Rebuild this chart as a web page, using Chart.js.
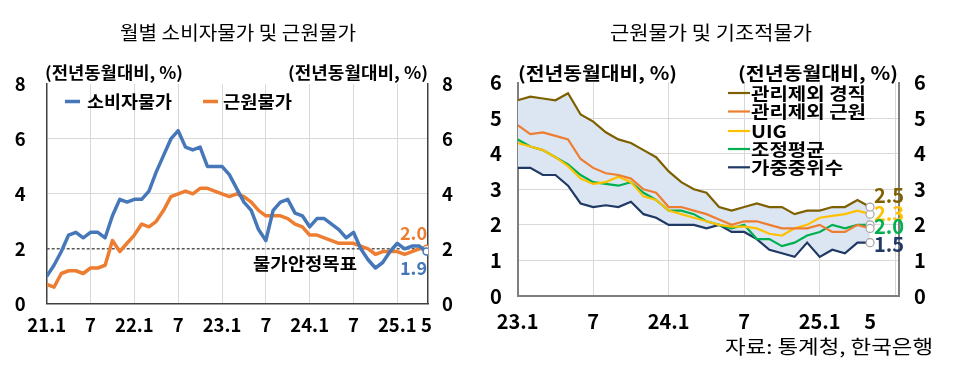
<!DOCTYPE html>
<html>
<head>
<meta charset="utf-8">
<script src="https://cdn.jsdelivr.net/npm/chart.js@4"></script>
<style>
  html, body { margin: 0; padding: 0; background: #fff; }
  #wrap { position: relative; width: 956px; height: 378px; overflow: hidden; }
  .cv { position: absolute; top: 0; }
</style>
</head>
<body>
<div id="wrap">
  <canvas id="left" class="cv" width="478" height="378" style="left:0"></canvas>
  <canvas id="right" class="cv" width="478" height="378" style="left:478px"></canvas>
</div>
<script>
// ---------- DATA ----------
// Left chart: monthly, 21.1 .. 25.5
const leftTickIndex = [0, 6, 12, 18, 24, 30, 36, 42, 48, 52];
const leftTickLabels = ['21.1', '7', '22.1', '7', '23.1', '7', '24.1', '7', '25.1', '5'];
const cpi = [
  1.0, 1.4, 1.9, 2.5, 2.6, 2.4, 2.6, 2.6, 2.4, 3.2, 3.8, 3.7,
  3.8, 3.8, 4.1, 4.8, 5.4, 6.0, 6.3, 5.7, 5.6, 5.7, 5.0, 5.0,
  5.0, 4.7, 4.2, 3.7, 3.4, 2.7, 2.3, 3.4, 3.7, 3.8, 3.3, 3.2,
  2.8, 3.1, 3.1, 2.9, 2.7, 2.4, 2.6, 2.0, 1.6, 1.3, 1.5, 1.9,
  2.2, 2.0, 2.1, 2.1, 1.9
];
const core = [
  0.7, 0.6, 1.1, 1.2, 1.2, 1.1, 1.3, 1.3, 1.4, 2.3, 1.9, 2.2,
  2.5, 2.9, 2.8, 3.0, 3.4, 3.9, 4.0, 4.1, 4.0, 4.2, 4.2, 4.1,
  4.0, 3.9, 4.0, 3.9, 3.7, 3.4, 3.2, 3.2, 3.2, 3.1, 2.9, 2.8,
  2.5, 2.5, 2.4, 2.3, 2.2, 2.2, 2.2, 2.1, 2.0, 1.8, 1.9, 1.9,
  1.9, 1.8, 1.9, 2.0, 2.0
];
const inflationTarget = 2;

// Right chart: monthly, 23.1 .. 25.5
const rightTickIndex = [0, 6, 12, 18, 24, 28, 30];
const rightTickLabels = ['23.1', '7', '24.1', '7', '25.1', '5', ''];
const exAdminRigid = [5.5, 5.6, 5.55, 5.5, 5.7, 5.1, 4.9, 4.6, 4.4, 4.3, 4.1, 3.9, 3.5, 3.2, 3.0,
  2.9, 2.5, 2.4, 2.5, 2.6, 2.5, 2.5, 2.3, 2.4, 2.4, 2.5, 2.5, 2.7, 2.5];
const exAdminCore = [4.8, 4.55, 4.6, 4.5, 4.4, 3.85, 3.6, 3.45, 3.4, 3.3, 3.0, 2.9, 2.5, 2.5, 2.4,
  2.3, 2.15, 2.0, 2.1, 2.1, 2.0, 1.9, 1.9, 1.9, 2.0, 1.8, 1.8, 2.0, 1.9];
const uig = [4.3, 4.2, 4.1, 3.9, 3.65, 3.3, 3.15, 3.2, 3.35, 3.2, 2.8, 2.7, 2.4, 2.3, 2.2,
  2.1, 2.0, 1.95, 1.95, 1.9, 1.75, 1.7, 1.9, 2.0, 2.2, 2.25, 2.3, 2.4, 2.3];
const trimmedMean = [4.4, 4.2, 4.1, 3.9, 3.7, 3.4, 3.2, 3.15, 3.1, 3.2, 2.9, 2.7, 2.4, 2.4, 2.3,
  2.1, 2.0, 1.9, 2.0, 1.6, 1.6, 1.4, 1.5, 1.7, 1.8, 2.0, 1.9, 2.0, 2.0];
const weightedMedian = [3.6, 3.6, 3.4, 3.4, 3.1, 2.6, 2.5, 2.55, 2.5, 2.65, 2.3, 2.2, 2.0, 2.0, 2.0,
  1.9, 2.0, 1.8, 1.8, 1.6, 1.3, 1.2, 1.1, 1.5, 1.1, 1.3, 1.2, 1.5, 1.5];

// ---------- HELPERS ----------
const FONT = "'Noto Sans CJK KR', 'Noto Sans', sans-serif";
const toPts = arr => arr.map((v, i) => ({ x: i, y: v }));
const lastIdxRadius = (r) => (ctx) => ctx.dataIndex === ctx.dataset.data.length - 1 ? r : 0;

// draw text; if width given, stretch horizontally to that width
function drawText(ctx, txt, x, y, font, color, align, width, sxFixed) {
  ctx.save();
  ctx.font = font;
  ctx.fillStyle = color;
  ctx.textBaseline = 'middle';
  const w = ctx.measureText(txt).width;
  const sx = sxFixed || (width ? width / w : 1);
  const tw = w * sx;
  let left = x;
  if (align === 'center') left = x - tw / 2;
  else if (align === 'right') left = x - tw;
  ctx.translate(left, y);
  ctx.scale(sx, 1);
  ctx.textAlign = 'left';
  ctx.fillText(txt, 0, 0);
  ctx.restore();
  return sx;
}

// ---------- LEFT CHART ----------
const leftLabelMap = {};
leftTickIndex.forEach((v, i) => leftLabelMap[v] = leftTickLabels[i]);

const leftDecor = {
  id: 'leftDecor',
  beforeDatasetsDraw(chart) {
    const { ctx, chartArea } = chart;
    const y = chart.scales.y.getPixelForValue(inflationTarget);
    ctx.save();
    ctx.strokeStyle = '#595959';
    ctx.lineWidth = 1.6;
    ctx.setLineDash([3, 2]);
    ctx.beginPath();
    ctx.moveTo(chartArea.left, y);
    ctx.lineTo(chartArea.right, y);
    ctx.stroke();
    ctx.restore();
  },
  afterDraw(chart) {
    const { ctx } = chart;
    drawText(ctx, '월별 소비자물가 및 근원물가', 238, 33, '400 19px ' + FONT, '#000', 'center', 236);
    drawText(ctx, '(전년동월대비, %)', 45, 73, 'bold 16.5px ' + FONT, '#000', 'left', 138);
    drawText(ctx, '(전년동월대비, %)', 428, 73, 'bold 16.5px ' + FONT, '#000', 'right', 140);
    // legend
    const legendPos = [{ lx: 65, tx: 87, w: 85 }, { lx: 203, tx: 223, w: 69 }];
    chart.data.datasets.forEach((ds, i) => {
      const p = legendPos[i];
      ctx.save();
      ctx.strokeStyle = ds.borderColor;
      ctx.lineWidth = 3.5;
      ctx.beginPath();
      ctx.moveTo(p.lx, 101.5);
      ctx.lineTo(p.lx + 15, 101.5);
      ctx.stroke();
      ctx.restore();
      drawText(ctx, ds.label, p.tx, 101, 'bold 17.5px ' + FONT, '#000', 'left', p.w);
    });
    const ys = chart.scales.y;
    drawText(ctx, '물가안정목표', 305, ys.getPixelForValue(inflationTarget) + 15, 'bold 17.5px ' + FONT, '#000', 'center', 104);
    // end labels
    const offs = [17, -16];
    chart.data.datasets.forEach((ds, i) => {
      const last = ds.data[ds.data.length - 1];
      drawText(ctx, last.y.toFixed(1), 427, ys.getPixelForValue(last.y) + offs[i], 'bold 18px ' + FONT, ds.borderColor, 'right');
    });
  }
};

new Chart(document.getElementById('left'), {
  type: 'line',
  data: {
    datasets: [
      { label: '소비자물가', data: toPts(cpi), borderColor: '#4677B9', borderWidth: 3.5,
        pointRadius: lastIdxRadius(3.5), pointBackgroundColor: '#fff', pointBorderColor: '#4677B9', pointBorderWidth: 1.5,
        tension: 0, borderJoinStyle: 'round' },
      { label: '근원물가', data: toPts(core), borderColor: '#ED7D31', borderWidth: 3.5,
        pointRadius: lastIdxRadius(3.5), pointBackgroundColor: '#fff', pointBorderColor: '#ED7D31', pointBorderWidth: 1.5,
        tension: 0, borderJoinStyle: 'round' }
    ]
  },
  options: {
    responsive: false, animation: false, devicePixelRatio: 1,
    layout: { padding: { top: 84, left: 0, right: 0, bottom: 0 } },
    plugins: { legend: { display: false }, tooltip: { enabled: false } },
    scales: {
      x: {
        type: 'linear', min: 0, max: 52.2,
        afterFit: s => { s.height = 74.3; },
        afterBuildTicks: s => { s.ticks = leftTickIndex.map(v => ({ value: v })); },
        ticks: { autoSkip: false, maxRotation: 0, padding: 10, color: '#000',
          font: { family: FONT, size: 18.5, weight: 'bold' },
          callback: v => leftLabelMap[v] ?? '' },
        grid: { drawTicks: false, lineWidth: 1,
          color: c => (c.tick && c.tick.value > 0 && c.tick.value % 6 === 0) ? '#d9d9d9' : 'rgba(0,0,0,0)' },
        border: { color: '#404040', width: 1.5 }
      },
      y: {
        min: 0, max: 8, position: 'left',
        afterFit: s => { s.width = 46.7; },
        ticks: { stepSize: 2, padding: 21, color: '#000', font: { family: FONT, size: 18.5, weight: 'bold' } },
        grid: { drawTicks: false,
          color: c => (c.tick && [4, 6].includes(c.tick.value)) ? '#d9d9d9' : 'rgba(0,0,0,0)' },
        border: { color: '#404040', width: 1.5 }
      },
      y2: {
        min: 0, max: 8, position: 'right',
        afterFit: s => { s.width = 50; },
        ticks: { stepSize: 2, padding: 14, color: '#000', font: { family: FONT, size: 18.5, weight: 'bold' } },
        grid: { display: false, drawTicks: false },
        border: { color: '#404040', width: 1.5 }
      }
    }
  },
  plugins: [leftDecor]
});

// ---------- RIGHT CHART ----------
const rightLabelMap = {};
rightTickIndex.forEach((v, i) => rightLabelMap[v] = rightTickLabels[i]);

const rightDecor = {
  id: 'rightDecor',
  afterDraw(chart) {
    const { ctx } = chart;
    drawText(ctx, '근원물가 및 기조적물가', 233, 33, '400 19px ' + FONT, '#000', 'center', 202);
    drawText(ctx, '(전년동월대비, %)', 40, 73, 'bold 18px ' + FONT, '#000', 'left', 159);
    drawText(ctx, '(전년동월대비, %)', 420, 73, 'bold 18px ' + FONT, '#000', 'right', 160);
    const legY = [93, 111.5, 131, 149, 167.3];
    let sx = null;
    chart.data.datasets.forEach((ds, i) => {
      ctx.save();
      ctx.strokeStyle = ds.borderColor;
      ctx.lineWidth = 2.2;
      ctx.beginPath();
      ctx.moveTo(250, legY[i]);
      ctx.lineTo(272, legY[i]);
      ctx.stroke();
      ctx.restore();
      const r = drawText(ctx, ds.label, 273, legY[i], 'bold 17.5px ' + FONT, '#000', 'left', i === 0 ? 115 : null, sx);
      if (i === 0) sx = r;
    });
    const ys = chart.scales.y;
    const endLabels = [[0, -12], [2, -1], [3, 2], [4, 2]];
    endLabels.forEach(([di, off]) => {
      const ds = chart.data.datasets[di];
      const last = ds.data[ds.data.length - 1];
      drawText(ctx, last.y.toFixed(1), 396, ys.getPixelForValue(last.y) + off, 'bold 20px ' + FONT, ds.borderColor, 'left');
    });
    drawText(ctx, '자료: 통계청, 한국은행', 247, 347, '400 19px ' + FONT, '#000', 'left', 208);
  }
};

const rightCommon = {
  borderWidth: 2.2, tension: 0,
  pointRadius: lastIdxRadius(4), pointBackgroundColor: '#fff', pointBorderColor: '#a6a6a6', pointBorderWidth: 1.2
};

new Chart(document.getElementById('right'), {
  type: 'line',
  data: {
    datasets: [
      { ...rightCommon, label: '관리제외 경직', data: toPts(exAdminRigid), borderColor: '#7F6000', fill: 4, backgroundColor: '#DCE6F3' },
      { ...rightCommon, label: '관리제외 근원', data: toPts(exAdminCore), borderColor: '#ED7D31', fill: false },
      { ...rightCommon, label: 'UIG', data: toPts(uig), borderColor: '#FFC000', fill: false },
      { ...rightCommon, label: '조정평균', data: toPts(trimmedMean), borderColor: '#00B050', fill: false },
      { ...rightCommon, label: '가중중위수', data: toPts(weightedMedian), borderColor: '#203864', fill: false }
    ]
  },
  options: {
    responsive: false, animation: false, devicePixelRatio: 1,
    layout: { padding: { top: 82.5, left: 0, right: 0, bottom: 0 } },
    plugins: { legend: { display: false }, tooltip: { enabled: false }, filler: { drawTime: 'beforeDatasetsDraw' } },
    scales: {
      x: {
        type: 'linear', min: 0, max: 30.3,
        afterFit: s => { s.height = 82; },
        afterBuildTicks: s => { s.ticks = rightTickIndex.map(v => ({ value: v })); },
        ticks: { autoSkip: false, maxRotation: 0, padding: 13, color: '#000',
          font: { family: FONT, size: 20, weight: 'bold' },
          callback: v => rightLabelMap[v] ?? '' },
        grid: { drawTicks: false,
          color: c => (c.tick && c.tick.value > 0 && c.tick.value % 6 === 0) ? '#d9d9d9' : 'rgba(0,0,0,0)' },
        border: { color: '#7f7f7f', width: 2 }
      },
      y: {
        min: 0, max: 6, position: 'left',
        afterFit: s => { s.width = 39.7; },
        ticks: { stepSize: 1, padding: 16, color: '#000', font: { family: FONT, size: 20, weight: 'bold' } },
        grid: { drawTicks: false,
          color: c => (c.tick && c.tick.value > 0 && c.tick.value < 6) ? '#d9d9d9' : 'rgba(0,0,0,0)' },
        border: { color: '#7f7f7f', width: 2 }
      },
      y2: {
        min: 0, max: 6, position: 'right',
        afterFit: s => { s.width = 57; },
        ticks: { stepSize: 1, padding: 15, color: '#000', font: { family: FONT, size: 20, weight: 'bold' } },
        grid: { display: false, drawTicks: false },
        border: { color: '#7f7f7f', width: 2 }
      }
    }
  },
  plugins: [rightDecor]
});
</script>
</body>
</html>
